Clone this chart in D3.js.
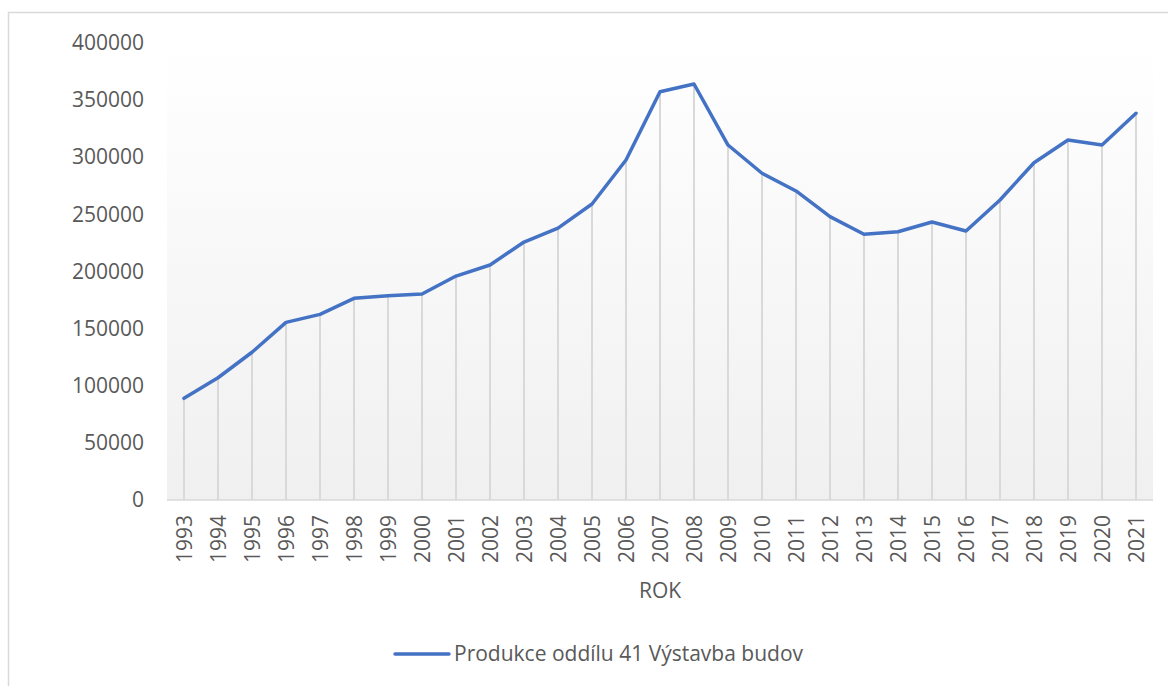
<!DOCTYPE html>
<html>
<head>
<meta charset="utf-8">
<script src="https://cdn.jsdelivr.net/npm/d3@7"></script>
<style>
  body { margin: 0; background: #fff; }
  text { font-family: "Open Sans", sans-serif; fill: #595959; }
</style>
</head>
<body>
<svg width="1168" height="686"></svg>
<script>
// values
const years = ["1993", "1994", "1995", "1996", "1997", "1998", "1999", "2000", "2001", "2002",
    "2003", "2004", "2005", "2006", "2007", "2008", "2009", "2010", "2011", "2012",
    "2013", "2014", "2015", "2016", "2017", "2018", "2019", "2020", "2021"];
const production = [89000, 107000, 129300, 155500, 162500, 176500, 178800, 180300, 196000, 205700,
    225800, 238000, 259100, 297600, 357400, 364100, 310700, 286000, 270500, 248000,
    232600, 234800, 243300, 235400, 262600, 295200, 315100, 310700, 338500];
const yTicks = [0, 50000, 100000, 150000, 200000, 250000, 300000, 350000, 400000];
const seriesName = "Produkce oddílu 41 Výstavba budov";
const axisTitle = "ROK";

let svg = d3.select("svg"),
    width = +svg.attr("width"),
    height = +svg.attr("height");

let margin = {left: 167, right: 15, top: 43, bottom: 186};
let plotW = width - margin.left - margin.right,
    plotH = height - margin.top - margin.bottom;

// outer chart border
svg.append("rect")
    .attr("x", 8.5).attr("y", 12.5)
    .attr("width", width + 20).attr("height", height + 20)
    .attr("fill", "none")
    .attr("stroke", "#d9d9d9")
    .attr("stroke-width", 1.5);

let defs = svg.append("defs");
let grad = defs.append("linearGradient")
    .attr("id", "plotbg")
    .attr("x1", 0).attr("y1", 0).attr("x2", 0).attr("y2", 1);
grad.append("stop").attr("offset", "0%").attr("stop-color", "#ffffff");
grad.append("stop").attr("offset", "100%").attr("stop-color", "#f0f0f0");

let g = svg.append("g").attr("transform", `translate(${margin.left},${margin.top})`);

let x = d3.scalePoint()
    .domain(years)
    .range([0, plotW])
    .padding(0.5);

let y = d3.scaleLinear()
    .domain([0, 400000])
    .range([plotH, 0]);

g.append("rect")
    .attr("width", plotW)
    .attr("height", plotH)
    .attr("fill", "url(#plotbg)");

let data = years.map(function (d, i) {
    return {year: d, value: production[i]};
});

// drop lines
g.append("g")
    .selectAll("line")
    .data(data)
    .enter().append("line")
    .attr("x1", function (d) { return x(d.year); })
    .attr("x2", function (d) { return x(d.year); })
    .attr("y1", function (d) { return y(d.value); })
    .attr("y2", y(0))
    .attr("stroke", "#d9d9d9")
    .attr("stroke-width", 2);

// x axis line
g.append("line")
    .attr("x1", 0).attr("x2", plotW)
    .attr("y1", y(0)).attr("y2", y(0))
    .attr("stroke", "#d9d9d9")
    .attr("stroke-width", 1.5);

// y tick labels
let yAxis = g.append("g")
    .call(d3.axisLeft(y).tickValues(yTicks).tickSize(0).tickPadding(23).tickFormat(d3.format("d")));
yAxis.select(".domain").remove();
yAxis.selectAll("text")
    .attr("font-size", 21)
    .attr("font-family", "Open Sans, sans-serif")
    .attr("fill", "#595959");

// x tick labels, rotated
let xAxis = g.append("g")
    .attr("transform", `translate(0,${plotH})`)
    .call(d3.axisBottom(x).tickSize(0));
xAxis.select(".domain").remove();
xAxis.selectAll("text")
    .attr("font-size", 21)
    .attr("font-family", "Open Sans, sans-serif")
    .attr("fill", "#595959")
    .attr("text-anchor", "end")
    .attr("dy", "0.35em")
    .attr("transform", "translate(0,15) rotate(-90)")
    .attr("x", 0).attr("y", 0);

// series line
let line = d3.line()
    .x(function (d) { return x(d.year); })
    .y(function (d) { return y(d.value); });

g.append("path")
    .datum(data)
    .attr("d", line)
    .attr("fill", "none")
    .attr("stroke", "#4472c4")
    .attr("stroke-width", 3.5)
    .attr("stroke-linejoin", "round")
    .attr("stroke-linecap", "round");

// axis title
svg.append("text")
    .attr("x", margin.left + plotW / 2)
    .attr("y", 598)
    .attr("text-anchor", "middle")
    .attr("font-size", 21)
    .text(axisTitle);

// legend
let legend = svg.append("g").attr("transform", "translate(395,654)");
legend.append("line")
    .attr("x1", 0).attr("x2", 54)
    .attr("stroke", "#4472c4")
    .attr("stroke-width", 3.5)
    .attr("stroke-linecap", "round");
legend.append("text")
    .attr("x", 59)
    .attr("dy", "0.35em")
    .attr("font-size", 21)
    .text(seriesName);
</script>
</body>
</html>
